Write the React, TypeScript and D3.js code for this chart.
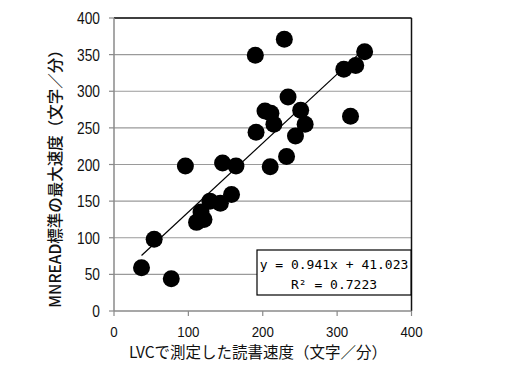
import React from "react";
import * as d3 from "d3";

const xValues = [229, 190, 337, 325, 309, 234, 203, 211, 251, 215, 257, 191, 244, 318, 232, 210, 96, 146, 164, 158, 129, 143, 117, 121, 111, 54, 37, 77];
const yValues = [371, 349, 354, 335, 330, 292, 273, 270, 274, 255, 255, 244, 239, 266, 211, 197, 198, 202, 198, 159, 150, 147, 135, 125, 121, 98, 59, 44];
const xTicks = [0, 100, 200, 300, 400];
const yTicks = [0, 50, 100, 150, 200, 250, 300, 350, 400];
const slope = 0.941;
const intercept = 41.023;
const eqLine1 = "y = 0.941x + 41.023";
const eqLine2 = "R² = 0.7223";
const xTitle = "LVCで測定した読書速度（文字／分）";
const yTitle = "MNREAD標準の最大速度（文字／分）";

export default function App() {
  const W = 507, H = 377;
  const left = 114, right = 411.5, top = 18, bottom = 311;
  const x = d3.scaleLinear().domain([0, 400]).range([left, right]);
  const y = d3.scaleLinear().domain([0, 400]).range([bottom, top]);
  const tickFont = "'Liberation Sans', Arial, sans-serif";
  const jpFont = "'Noto Sans CJK JP', sans-serif";
  const xMin = d3.min(xValues)!;
  const xMax = d3.max(xValues)!;
  const line = d3.line<number>().x((d) => x(d)).y((d) => y(slope * d + intercept));
  return (
    <svg width={W} height={H} style={{ position: "absolute", left: 0, top: 0, background: "#fff" }}>
      {yTicks.filter((t) => t > 0).map((t) => (
        <line key={"g" + t} x1={left} x2={right} y1={y(t)} y2={y(t)} stroke="#9a9a9a" strokeWidth={1.2} />
      ))}
      <line x1={left} x2={right} y1={top} y2={top} stroke="#111" strokeWidth={1.5} />
      <line x1={right} x2={right} y1={top} y2={bottom} stroke="#111" strokeWidth={1.5} />
      <line x1={left} x2={left} y1={top} y2={bottom} stroke="#8a8a8a" strokeWidth={1.5} />
      <line x1={left} x2={right} y1={bottom} y2={bottom} stroke="#8a8a8a" strokeWidth={1.5} />
      {yTicks.map((t) => (
        <g key={"y" + t}>
          <line x1={left - 5} x2={left} y1={y(t)} y2={y(t)} stroke="#8a8a8a" strokeWidth={1.2} />
          <text transform={`translate(100,${y(t) + 6}) scale(0.86,1)`} textAnchor="end" fontFamily={tickFont} fontSize={16} fill="#111">{t}</text>
        </g>
      ))}
      {xTicks.map((t) => (
        <g key={"x" + t}>
          <line x1={x(t)} x2={x(t)} y1={bottom} y2={bottom + 5} stroke="#8a8a8a" strokeWidth={1.2} />
          <text transform={`translate(${x(t)},337) scale(0.86,1)`} textAnchor="middle" fontFamily={tickFont} fontSize={15.5} fill="#111">{t}</text>
        </g>
      ))}
      <path d={line([xMin, xMax]) || ""} stroke="#000" strokeWidth={1.2} fill="none" />
      {xValues.map((xv, i) => (
        <circle key={i} cx={x(xv)} cy={y(yValues[i])} r={8.5} fill="#000" />
      ))}
      <rect x={257} y={250} width={154} height={45} fill="#fff" stroke="#000" strokeWidth={1.2} />
      <text x={334} y={269} textAnchor="middle" fontFamily="'DejaVu Sans Mono', monospace" fontSize={13} fill="#000">{eqLine1}</text>
      <text x={334} y={289} textAnchor="middle" fontFamily="'DejaVu Sans Mono', monospace" fontSize={13} fill="#000">{eqLine2}</text>
      <text x={258} y={358} textAnchor="middle" fontFamily={jpFont} fontSize={15.5} fill="#111">{xTitle}</text>
      <text transform={`translate(61,175) rotate(-90)`} textAnchor="middle" fontFamily={jpFont} fontSize={15.5} fontWeight={500} fill="#111">{yTitle}</text>
    </svg>
  );
}
